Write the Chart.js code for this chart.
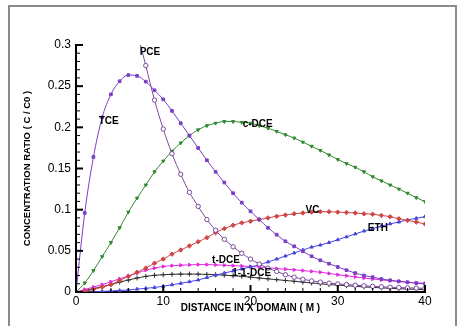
<!DOCTYPE html>
<html lang="en">
<head>
  <meta charset="UTF-8" />
  <title>Concentration ratio vs distance</title>
  <script src="https://cdn.jsdelivr.net/npm/chart.js"></script>
  <style>
    body {
      margin: 0;
      background: #fff;
      font-family: "Liberation Sans", Arial, sans-serif;
    }
    #wrap {
      position: relative;
      width: 464px;
      height: 326px;
      overflow: hidden;
    }
    #frame {
      position: absolute;
      left: 8px;
      top: 5px;
      width: 445px;
      height: 340px;
      border: 2px solid #8c8c8c;
    }
    canvas {
      position: absolute;
      left: 0;
      top: 0;
    }
  </style>
</head>
<body>
  <div id="wrap">
    <div id="frame"></div>
    <canvas id="chart" width="464" height="326"></canvas>
  </div>

  <script>
    // distance in x domain (m), one sample per metre
    const distance = [0, 1, 2, 3, 4, 5, 6, 7, 8, 9, 10, 11, 12, 13, 14, 15, 16, 17, 18, 19, 20,
      21, 22, 23, 24, 25, 26, 27, 28, 29, 30, 31, 32, 33, 34, 35, 36, 37, 38, 39, 40];

    // concentration ratio C/C0
    const tce = [0, 0.096, 0.164, 0.212, 0.240, 0.256, 0.2635, 0.2625, 0.2555, 0.245, 0.234,
      0.220, 0.205, 0.190, 0.175, 0.160, 0.146, 0.133, 0.120, 0.1085, 0.098,
      0.088, 0.078, 0.0696, 0.0616, 0.0555, 0.0494, 0.0434, 0.0385, 0.0344, 0.0304,
      0.0265, 0.023, 0.020, 0.018, 0.0158, 0.0142, 0.013, 0.0118, 0.0108, 0.0097];
    const pce = [null, null, null, null, null, null, null, 0.316, 0.275, 0.233, 0.198,
      0.168, 0.143, 0.121, 0.104, 0.088, 0.075, 0.064, 0.055, 0.047, 0.040,
      0.034, 0.029, 0.025, 0.021, 0.018, 0.0155, 0.0135, 0.012, 0.0108, 0.0098,
      0.009, 0.0082, 0.0075, 0.0069, 0.0063, 0.0058, 0.0054, 0.005, 0.0047, 0.0044];
    const cDce = [0, 0.011, 0.026, 0.043, 0.060, 0.078, 0.097, 0.114, 0.130, 0.146, 0.159,
      0.171, 0.181, 0.190, 0.197, 0.202, 0.205, 0.207, 0.207, 0.206, 0.205,
      0.202, 0.199, 0.195, 0.191, 0.187, 0.182, 0.177, 0.172, 0.1665, 0.161,
      0.156, 0.1515, 0.146, 0.140, 0.135, 0.130, 0.125, 0.120, 0.1146, 0.1097];
    const vc = [0, 0.001, 0.003, 0.006, 0.009, 0.014, 0.019, 0.024, 0.029, 0.035, 0.040,
      0.046, 0.051, 0.056, 0.061, 0.066, 0.072, 0.077, 0.081, 0.084, 0.086,
      0.088, 0.090, 0.092, 0.0935, 0.095, 0.096, 0.097, 0.0975, 0.0975, 0.097,
      0.0965, 0.096, 0.095, 0.0945, 0.093, 0.0915, 0.089, 0.087, 0.085, 0.0826];
    const eth = [0, 0.0001, 0.0003, 0.0007, 0.0012, 0.0018, 0.0025, 0.0035, 0.0045, 0.0055, 0.007,
      0.0088, 0.0105, 0.0125, 0.0146, 0.0175, 0.0205, 0.023, 0.0255, 0.028, 0.0305,
      0.033, 0.0365, 0.040, 0.0437, 0.0474, 0.051, 0.0545, 0.057, 0.060, 0.0635,
      0.067, 0.0705, 0.074, 0.077, 0.080, 0.0828, 0.085, 0.0875, 0.0895, 0.0915];
    const tDce = [0, 0.003, 0.006, 0.009, 0.0125, 0.016, 0.0195, 0.023, 0.0265, 0.029, 0.031,
      0.032, 0.0325, 0.033, 0.0333, 0.0333, 0.033, 0.0325, 0.032, 0.0315, 0.031,
      0.0303, 0.0295, 0.0285, 0.0277, 0.027, 0.026, 0.025, 0.024, 0.0225, 0.021,
      0.0197, 0.0183, 0.017, 0.0158, 0.0147, 0.0137, 0.0127, 0.0119, 0.0112, 0.0105];
    const dce11 = [0, 0.002, 0.004, 0.0065, 0.009, 0.012, 0.0145, 0.017, 0.019, 0.0203, 0.021,
      0.0215, 0.0217, 0.0218, 0.0217, 0.0214, 0.021, 0.0205, 0.0197, 0.019, 0.018,
      0.017, 0.016, 0.015, 0.014, 0.013, 0.012, 0.011, 0.010, 0.009, 0.0083,
      0.0076, 0.0069, 0.0062, 0.0056, 0.005, 0.0045, 0.004, 0.0036, 0.0032, 0.0028];

    const xTicks = [0, 10, 20, 30, 40];
    const yTicks = [0, 0.05, 0.1, 0.15, 0.2, 0.25, 0.3];

    // in-plot curve names, placed in data units
    const curveNames = ['PCE', 'TCE', 'c-DCE', 'VC', 'ETH', 't-DCE', '1-1-DCE'];
    const nameX = [7.3, 2.6, 19.1, 26.3, 33.45, 15.6, 17.9];
    const nameY = [0.2915, 0.2077, 0.204, 0.0996, 0.0777, 0.0389, 0.0227];

    const pts = arr => distance.map((x, i) => ({ x: x, y: arr[i] }));

    function series(label, arr, color, style, extra) {
      return Object.assign({
        label: label,
        data: pts(arr),
        borderColor: color,
        backgroundColor: color,
        pointBorderColor: color,
        pointBackgroundColor: color,
        borderWidth: 1,
        pointStyle: style,
        pointRadius: 1.9,
        pointBorderWidth: 1,
        cubicInterpolationMode: 'monotone'
      }, extra || {});
    }

    // Tecplot-style inward tick marks
    const innerTicks = {
      id: 'innerTicks',
      afterDraw(chart) {
        const { ctx, chartArea: a, scales: { x, y } } = chart;
        ctx.save();
        ctx.strokeStyle = '#000';
        for (let v = 0; v <= 40; v += 2) {
          const px = x.getPixelForValue(v);
          const major = v % 10 === 0;
          ctx.lineWidth = major ? 2 : 1;
          ctx.beginPath();
          ctx.moveTo(px, a.bottom);
          ctx.lineTo(px, a.bottom - (major ? 7 : 4));
          ctx.stroke();
        }
        for (let i = 0; i <= 30; i++) {
          const py = y.getPixelForValue(i / 100);
          const major = i % 5 === 0;
          ctx.lineWidth = major ? 2 : 1;
          ctx.beginPath();
          ctx.moveTo(a.left, py);
          ctx.lineTo(a.left + (major ? 7 : 4), py);
          ctx.stroke();
        }
        ctx.restore();
      }
    };

    const curveLabels = {
      id: 'curveLabels',
      afterDatasetsDraw(chart) {
        const { ctx, scales: { x, y } } = chart;
        ctx.save();
        ctx.font = 'bold 10px "Liberation Sans", Arial, sans-serif';
        ctx.fillStyle = '#000';
        ctx.textAlign = 'left';
        ctx.textBaseline = 'middle';
        curveNames.forEach((t, i) => {
          ctx.fillText(t, x.getPixelForValue(nameX[i]), y.getPixelForValue(nameY[i]));
        });
        ctx.restore();
      }
    };

    new Chart(document.getElementById('chart'), {
      type: 'line',
      data: {
        datasets: [
          series('TCE', tce, '#7a3fc4', 'rect'),
          series('PCE', pce, '#7b4a9c', 'circle', { pointBackgroundColor: '#fff', pointRadius: 2.2 }),
          series('c-DCE', cDce, '#2f8a2f', 'triangle', { pointRotation: 180 }),
          series('VC', vc, '#d04646', 'rectRot', { pointRadius: 2.2 }),
          series('ETH', eth, '#4646e0', 'triangle'),
          series('t-DCE', tDce, '#e02ce0', 'triangle', { pointRotation: 90 }),
          series('1-1-DCE', dce11, '#303030', 'cross', { pointRadius: 2.5 })
        ]
      },
      options: {
        responsive: false,
        animation: false,
        layout: { padding: { top: 45, right: 39, left: 0, bottom: 0 } },
        plugins: {
          legend: { display: false },
          tooltip: { enabled: false }
        },
        scales: {
          x: {
            type: 'linear',
            min: 0,
            max: 40,
            afterFit: s => { s.height = 34; },
            afterBuildTicks: s => { s.ticks = xTicks.map(v => ({ value: v })); },
            grid: { drawOnChartArea: false, drawTicks: false },
            border: { color: '#000', width: 2 },
            ticks: {
              padding: 2,
              color: '#000',
              font: { family: '"Liberation Sans", Arial, sans-serif', size: 12 }
            },
            title: {
              display: true,
              text: 'DISTANCE IN X DOMAIN ( M )',
              color: '#000',
              font: { family: '"Liberation Sans", Arial, sans-serif', size: 10, weight: 'bold' },
              padding: { top: 0, bottom: 12 }
            }
          },
          y: {
            min: 0,
            max: 0.3,
            afterFit: s => { s.width = 76; },
            afterBuildTicks: s => { s.ticks = yTicks.map(v => ({ value: v })); },
            grid: { drawOnChartArea: false, drawTicks: false },
            border: { color: '#000', width: 2 },
            ticks: {
              padding: 5,
              color: '#000',
              font: { family: '"Liberation Sans", Arial, sans-serif', size: 12 },
              callback: v => String(Math.round(v * 100) / 100)
            },
            title: {
              display: true,
              text: 'CONCENTRATION RATIO ( C / C0 )',
              color: '#000',
              font: { family: '"Liberation Sans", Arial, sans-serif', size: 9.5, weight: 'bold' },
              padding: { top: 22, bottom: 0 }
            }
          }
        }
      },
      plugins: [innerTicks, curveLabels]
    });
  </script>
</body>
</html>
